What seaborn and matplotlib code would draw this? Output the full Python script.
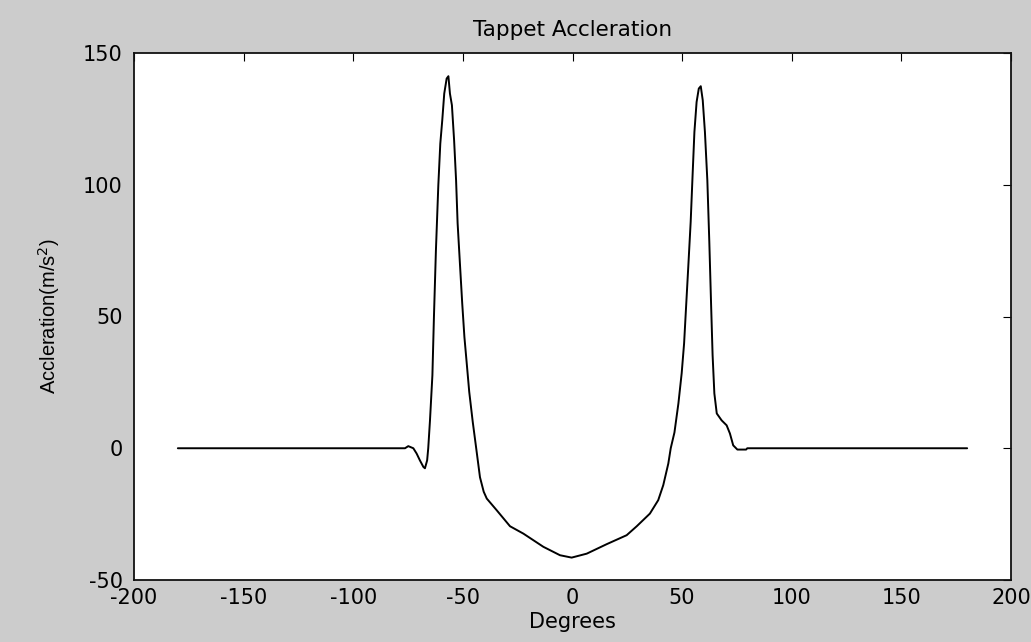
import matplotlib
matplotlib.use("Agg")
import matplotlib.pyplot as plt
import seaborn as sns
import pandas as pd

degrees = [-180, -76.4, -74.9, -72.6, -71.1, -69.6, -68.0, -67.3, -66.3, -65.8, -65.0,
           -63.9, -63.2, -62.3, -61.2, -60.3, -59.4, -58.5, -57.4, -56.6, -55.9, -55.0,
           -54.0, -53.1, -52.4, -51.3, -50.3, -49.3, -48.3, -47.1, -45.5, -44.0, -42.2,
           -40.5, -39.1, -34.6, -28.5, -22.4, -13.3, -5.7, -0.4, 6.5, 15.6, 24.7, 29.3,
           35.3, 39.1, 41.4, 43.7, 44.8, 46.5, 48.3, 49.8, 50.9, 51.8, 52.8, 53.9, 54.8,
           55.6, 56.6, 57.6, 58.5, 59.4, 60.4, 61.5, 62.4, 63.2, 63.9, 64.7, 65.8, 68.0,
           70.3, 71.8, 73.3, 75.2, 79.2, 79.7, 180]
accel = [0, 0, 0.8, 0, -2.0, -4.6, -7.1, -7.6, -4.6, 0, 10.6,
         27.7, 49.8, 75.0, 99.8, 115.6, 124.5, 134.6, 140.3, 141.2, 134.6, 130.2,
         116.9, 101.7, 85.4, 69.4, 55.0, 42.2, 32.8, 21.4, 10.0, 0.5, -11.0,
         -16.5, -19.1, -23.5, -29.6, -32.4, -37.4, -40.6, -41.5, -40.0, -36.4, -33.0, -29.6,
         -24.8, -19.7, -14.0, -5.8, 0, 6.0, 17.0, 28.5, 39.8, 53.6, 68.8, 85.9, 104.2,
         120.0, 131.4, 136.5, 137.4, 132.1, 120.0, 101.7, 78.3, 54.9, 35.3, 20.8, 13.2, 10.6,
         8.7, 5.6, 1.1, -0.5, -0.5, 0, 0]

xticks = [-200, -150, -100, -50, 0, 50, 100, 150, 200]
yticks = [-50, 0, 50, 100, 150]

title = "Tappet Accleration"
xlabel = "Degrees"
ylabel = "Accleration(m/s$^2$)"

sns.set_style("white")
plt.rcParams['font.family'] = ['DejaVu Sans']
plt.rcParams['axes.unicode_minus'] = False
plt.rcParams['text.color'] = 'black'
plt.rcParams['axes.labelcolor'] = 'black'

fig = plt.figure(figsize=(10.31, 6.42), dpi=100, facecolor='#cccccc')
ax = fig.add_axes([134/1031, 1 - 580/642, 877/1031, 527/642])
ax.set_facecolor('white')

df = pd.DataFrame({"deg": degrees, "acc": accel})
sns.lineplot(data=df, x="deg", y="acc", color='black', linewidth=1.4, ax=ax, sort=False)

ax.set_xlim(-200, 200)
ax.set_ylim(-50, 150)
ax.set_xticks(xticks)
ax.set_yticks(yticks)
ax.tick_params(direction='in', length=6, width=0.8, top=True, right=True,
               labelsize=15, colors='black')
ax.tick_params(axis='x', pad=6)
ax.tick_params(axis='y', pad=8)
for s in ax.spines.values():
    s.set_visible(True)
    s.set_color('#111111')
    s.set_linewidth(1.3)

ax.set_title(title, fontsize=15.5, pad=12, color='black')
ax.set_xlabel(xlabel, fontsize=15, labelpad=3, color='black')
ax.set_ylabel(ylabel, fontsize=14.5, labelpad=15, color='black',
              fontfamily=['Liberation Sans', 'DejaVu Sans'])

fig.savefig("out.png", dpi=100, facecolor=fig.get_facecolor())
